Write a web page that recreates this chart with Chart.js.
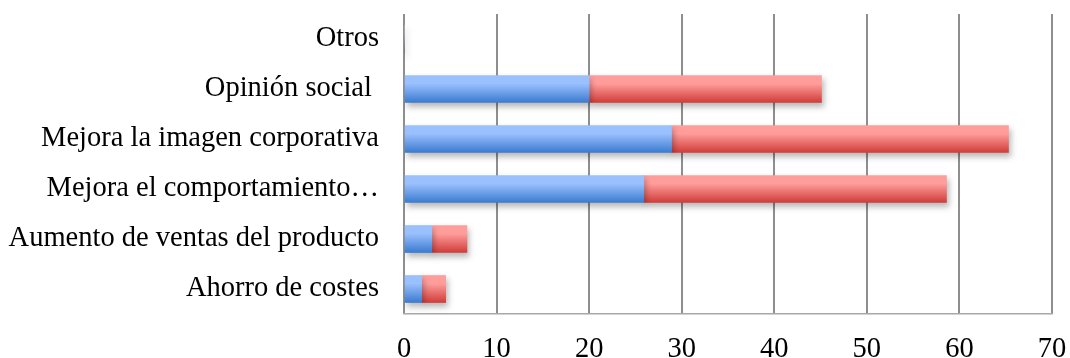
<!DOCTYPE html>
<html>
<head>
<meta charset="utf-8">
<script src="https://cdn.jsdelivr.net/npm/chart.js@4"></script>
<style>
  html, body { margin: 0; padding: 0; background: #fff; }
  #wrap { width: 1070px; height: 358px; }
</style>
</head>
<body>
<div id="wrap"><canvas id="benefits"></canvas></div>
<script>
// categorías (de arriba a abajo) y valores de cada serie
const categories = [
  "Otros",
  "Opinión social ",
  "Mejora la imagen corporativa",
  "Mejora el comportamiento…",
  "Aumento de ventas del producto",
  "Ahorro de costes"
];
const serieAzul = [0, 20, 28.9, 25.9, 3, 1.9];
const serieRoja = [0, 25.1, 36.4, 32.7, 3.8, 2.6];
const xTicks = [0, 10, 20, 30, 40, 50, 60, 70];

const BAR_H = 27;

// degradado vertical para cada barra
function barGradient(ctx, top, bottom) {
  const chart = ctx.chart;
  if (!chart.chartArea) return bottom;
  const y = chart.scales.y.getPixelForValue(ctx.dataIndex);
  const g = chart.ctx.createLinearGradient(0, y - BAR_H / 2, 0, y + BAR_H / 2);
  g.addColorStop(0, top);
  g.addColorStop(0.3, top);
  g.addColorStop(1, bottom);
  return g;
}

// sombra suave debajo de las barras
const shadowPlugin = {
  id: "barShadow",
  beforeDatasetsDraw(chart) {
    const c = chart.ctx;
    c.save();
    c.shadowColor = "rgba(0,0,0,0.28)";
    c.shadowBlur = 6;
    c.shadowOffsetX = 2;
    c.shadowOffsetY = 4;
  },
  afterDatasetsDraw(chart) {
    chart.ctx.restore();
  }
};

// sin relleno automático de las escalas; el margen lo fija layout.padding
function noScalePadding(s) {
  s.paddingTop = 0;
  s.paddingBottom = 0;
  s.paddingLeft = 0;
  s.paddingRight = 0;
}

const ctx = document.getElementById("benefits").getContext("2d");
new Chart(ctx, {
  type: "bar",
  data: {
    labels: categories,
    datasets: [
      {
        data: serieAzul,
        backgroundColor: c => barGradient(c, "#9ac0fd", "#3b7bd0"),
        barThickness: BAR_H
      },
      {
        data: serieRoja,
        backgroundColor: c => barGradient(c, "#ff9d9b", "#d03c39"),
        barThickness: BAR_H
      }
    ]
  },
  options: {
    indexAxis: "y",
    responsive: true,
    maintainAspectRatio: false,
    animation: false,
    layout: { padding: { top: 14, right: 18, left: 0, bottom: 0 } },
    plugins: {
      legend: { display: false },
      tooltip: { enabled: false }
    },
    scales: {
      x: {
        stacked: true,
        min: 0,
        max: 70,
        afterBuildTicks: s => { s.ticks = xTicks.map(v => ({ value: v })); },
        grid: { color: "#8e8e8e", lineWidth: 2, drawTicks: false },
        border: { display: true, color: "#a8a8a8", width: 1.5 },
        ticks: {
          color: "#000",
          padding: 18,
          font: { family: "Liberation Serif", size: 28.5 },
          maxRotation: 0
        },
        afterFit: s => { s.height = 44; noScalePadding(s); }
      },
      y: {
        stacked: true,
        grid: { display: false },
        border: { display: false },
        ticks: {
          color: "#000",
          padding: 17,
          font: { family: "Liberation Serif", size: 28.5 },
          autoSkip: false
        },
        afterFit: s => { s.width = 404; noScalePadding(s); }
      }
    }
  },
  plugins: [shadowPlugin]
});
</script>
</body>
</html>
